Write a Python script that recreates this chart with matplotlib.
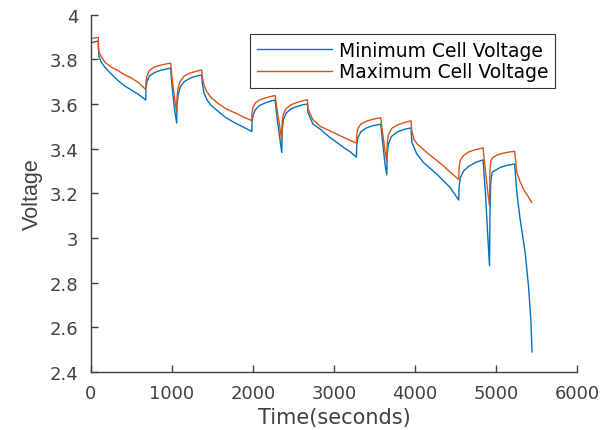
import matplotlib
matplotlib.use("Agg")
import matplotlib.pyplot as plt
from matplotlib.ticker import FuncFormatter

plt.rcParams['font.family'] = ['DejaVu Sans']

# ── data ─────────────────────────────────────────────────────────────────────
t_max = [0, 40, 90,
         92, 100, 130, 173, 250, 337, 420, 502, 590, 676,
         678, 690, 720, 780, 850, 920, 984,
         1000, 1030, 1058,
         1062, 1075, 1100, 1150, 1220, 1300, 1367,
         1375, 1395, 1430, 1480, 1560, 1660, 1780, 1890, 1985,
         1988, 2000, 2030, 2080, 2150, 2220, 2272,
         2300, 2330, 2355,
         2360, 2375, 2410, 2470, 2550, 2620, 2671,
         2680, 2700, 2740, 2830, 2950, 3035, 3150, 3277,
         3280, 3295, 3330, 3400, 3480, 3577,
         3600, 3630, 3652,
         3656, 3670, 3710, 3780, 3870, 3952,
         3960, 3990, 4030, 4146, 4250, 4351, 4450, 4540,
         4545, 4560, 4600, 4660, 4740, 4800, 4840,
         4870, 4900, 4920,
         4925, 4936, 4960, 5010, 5080, 5160, 5230,
         5257, 5300, 5339, 5390, 5440]
v_max = [3.892, 3.896, 3.898,
         3.86, 3.83, 3.81, 3.787, 3.765, 3.749, 3.73, 3.716, 3.695, 3.665,
         3.70, 3.725, 3.75, 3.765, 3.773, 3.779, 3.783,
         3.72, 3.63, 3.564,
         3.63, 3.67, 3.70, 3.725, 3.738, 3.747, 3.752,
         3.72, 3.685, 3.655, 3.63, 3.605, 3.58, 3.56, 3.54, 3.526,
         3.56, 3.585, 3.605, 3.618, 3.627, 3.634, 3.638,
         3.57, 3.50, 3.437,
         3.52, 3.555, 3.58, 3.597, 3.608, 3.615, 3.619,
         3.58, 3.56, 3.53, 3.50, 3.48, 3.465, 3.445, 3.425,
         3.46, 3.49, 3.51, 3.523, 3.532, 3.539,
         3.47, 3.39, 3.342,
         3.42, 3.46, 3.49, 3.506, 3.517, 3.525,
         3.48, 3.44, 3.42, 3.383, 3.353, 3.323, 3.29, 3.262,
         3.32, 3.35, 3.37, 3.385, 3.395, 3.40, 3.404,
         3.30, 3.20, 3.145,
         3.30, 3.346, 3.36, 3.371, 3.379, 3.385, 3.388,
         3.294, 3.25, 3.219, 3.19, 3.16]

t_min = [0, 40, 90,
         92, 100, 130, 173, 250, 337, 420, 502, 590, 676,
         678, 690, 720, 780, 850, 920, 984,
         1000, 1030, 1058,
         1062, 1075, 1100, 1150, 1220, 1300, 1367,
         1375, 1395, 1430, 1480, 1560, 1660, 1780, 1890, 1985,
         1988, 2000, 2030, 2080, 2150, 2220, 2272,
         2300, 2330, 2355,
         2360, 2375, 2410, 2470, 2550, 2620, 2671,
         2680, 2705, 2740, 2829, 2950, 3035, 3120, 3200, 3277,
         3280, 3295, 3330, 3400, 3480, 3577,
         3600, 3630, 3652,
         3656, 3670, 3710, 3780, 3870, 3952,
         3961, 4023, 4105, 4269, 4434, 4540,
         4545, 4560, 4600, 4660, 4740, 4800, 4840,
         4870, 4900, 4920,
         4925, 4935, 4952, 5051, 5140, 5230,
         5257, 5298, 5360, 5401, 5430, 5445]
v_min = [3.873, 3.878, 3.882,
         3.84, 3.809, 3.785, 3.764, 3.735, 3.704, 3.68, 3.662, 3.642, 3.618,
         3.67, 3.70, 3.725, 3.74, 3.75, 3.756, 3.761,
         3.68, 3.58, 3.515,
         3.60, 3.64, 3.675, 3.70, 3.715, 3.725, 3.73,
         3.69, 3.65, 3.62, 3.595, 3.57, 3.54, 3.515, 3.495, 3.477,
         3.52, 3.55, 3.575, 3.593, 3.605, 3.613, 3.618,
         3.53, 3.45, 3.383,
         3.48, 3.53, 3.56, 3.578, 3.59, 3.597, 3.60,
         3.56, 3.54, 3.51, 3.488, 3.45, 3.428, 3.405, 3.386, 3.362,
         3.41, 3.45, 3.475, 3.493, 3.503, 3.51,
         3.43, 3.33, 3.283,
         3.37, 3.42, 3.455, 3.475, 3.487, 3.493,
         3.428, 3.376, 3.338, 3.286, 3.226, 3.17,
         3.23, 3.27, 3.30, 3.32, 3.337, 3.345, 3.35,
         3.20, 3.00, 2.875,
         3.10, 3.249, 3.294, 3.316, 3.326, 3.331,
         3.204, 3.084, 2.935, 2.785, 2.636, 2.49]

labels = ["Minimum Cell Voltage", "Maximum Cell Voltage"]
x_ticks = [0, 1000, 2000, 3000, 4000, 5000, 6000]
y_ticks = [2.4, 2.6, 2.8, 3.0, 3.2, 3.4, 3.6, 3.8, 4.0]

# ── plot ─────────────────────────────────────────────────────────────────────
fig = plt.figure(figsize=(6.08, 4.31), dpi=100)
ax = fig.add_axes([91 / 608, 1 - 373 / 431, 486 / 608, 357.3 / 431])

ax.plot(t_min, v_min, color="#0072BD", lw=1.0, label=labels[0])
ax.plot(t_max, v_max, color="#D95319", lw=1.0, label=labels[1])

ax.set_xlim(0, 6000)
ax.set_ylim(2.4, 4.0)
ax.set_xticks(x_ticks)
ax.set_yticks(y_ticks)
ax.yaxis.set_major_formatter(FuncFormatter(lambda v, p: f"{v:g}"))

for side in ("top", "right"):
    ax.spines[side].set_visible(False)
for side in ("left", "bottom"):
    ax.spines[side].set_color("#404040")
    ax.spines[side].set_linewidth(1.0)
ax.tick_params(direction="in", length=5, width=1.0, colors="#404040",
               labelsize=13)
ax.tick_params(axis="x", pad=9)
ax.tick_params(axis="y", pad=9)

ax.set_xlabel("Time(seconds)", fontsize=15, color="#404040", labelpad=3)
ax.set_ylabel("Voltage", fontsize=15.5, color="#404040", labelpad=5,
              family="Liberation Sans")

leg = ax.legend(loc="upper right", bbox_to_anchor=(0.955, 0.945),
                borderaxespad=0, fontsize=13.5, handlelength=4.0,
                fancybox=False, framealpha=1, edgecolor="#333333",
                borderpad=0.35, labelspacing=0.12, handletextpad=0.4)
leg.get_frame().set_linewidth(0.8)

fig.savefig("out.png", dpi=100)
